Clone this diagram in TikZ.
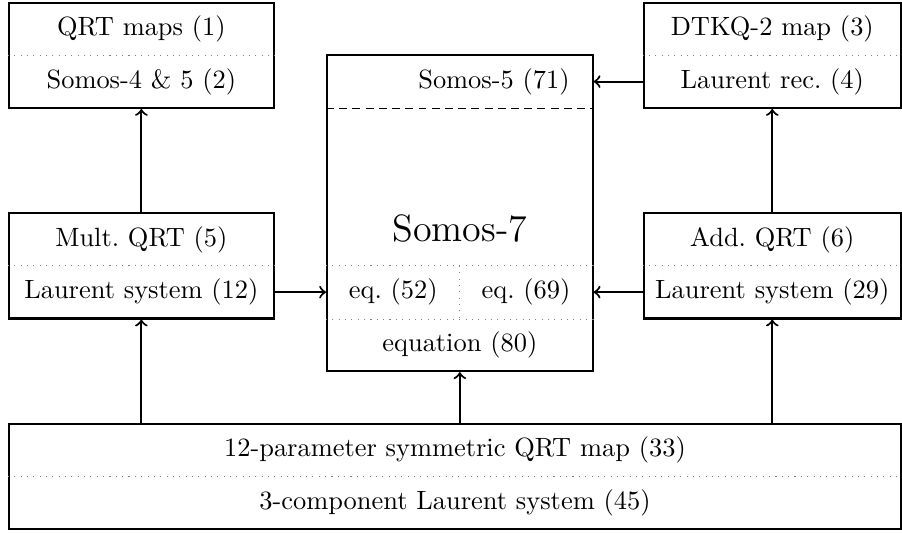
\documentclass[tikz,border=0pt]{standalone}
\begin{document}
\begin{tikzpicture}[
  box/.style={draw=black, thick, inner sep=0pt, minimum height=1.4cm},
  sep/.style={gray, dotted},
  link/.style={->, thick}]
\useasboundingbox (-0.12,-0.066) rectangle (11.875,7.035);
% boxes
\node [box, minimum width=3.52cm] (tl) at (1.76,6.3) {};
\node [box, minimum width=3.42cm] (tr) at (10.15,6.3) {};
\node [box, minimum width=3.52cm] (ml) at (1.76,3.5) {};
\node [box, minimum width=3.42cm] (mr) at (10.15,3.5) {};
\node [box, minimum width=3.53cm, minimum height=4.2cm] (cen) at (5.995,4.2) {};
\node [box, minimum width=11.86cm] (bot) at (5.93,0.7) {};
% row separators
\draw [sep] (tl.west) -- (tl.east);
\draw [sep] (tr.west) -- (tr.east);
\draw [sep] (ml.west) -- (ml.east);
\draw [sep] (mr.west) -- (mr.east);
\draw [sep] (bot.west) -- (bot.east);
\draw [sep] (cen.west |- ml) -- (cen.east |- ml);
\draw [sep] (cen.west |- ml.south) -- (cen.east |- ml.south);
\draw [sep] (cen.south |- ml) -- (cen.south |- ml.south);
\draw [densely dashed] (cen.west |- tl.south) -- (cen.east |- tl.south);
% texts
\node (tlA) at (1.76,6.65) {QRT maps (1)};
\node (tlB) at (1.76,5.95) {Somos-4 \& 5 (2)};
\node (trA) at (10.15,6.65) {DTKQ-2 map (3)};
\node (trB) at (10.15,5.95) {Laurent rec.\ (4)};
\node (mlA) at (1.76,3.85) {Mult.\ QRT (5)};
\node (mlB) at (1.76,3.15) {Laurent system (12)};
\node (mrA) at (10.15,3.85) {Add.\ QRT (6)};
\node (mrB) at (10.15,3.15) {Laurent system (29)};
\node [anchor=east] (cA) at (7.58,5.95) {Somos-5 (71)};
\node [font=\Large] (cB) at (5.995,4.0) {Somos-7};
\node (cC) at (5.11,3.15) {eq.\ (52)};
\node (cD) at (6.875,3.15) {eq.\ (69)};
\node (cE) at (5.995,2.45) {equation (80)};
\node (bA) at (5.93,1.05) {12-parameter symmetric QRT map (33)};
\node (bB) at (5.93,0.35) {3-component Laurent system (45)};
% arrows
\draw [link] (ml.north) -- (tl.south);
\draw [link] (mr.north) -- (tr.south);
\draw [link] (tr.west |- trB) -- (cen.east |- trB);
\draw [link] (ml.east |- mlB) -- (cen.west |- mlB);
\draw [link] (mr.west |- mrB) -- (cen.east |- mrB);
\draw [link] (bot.north -| ml) -- (ml.south);
\draw [link] (bot.north -| cen) -- (cen.south);
\draw [link] (bot.north -| mr) -- (mr.south);
\end{tikzpicture}
\end{document}
